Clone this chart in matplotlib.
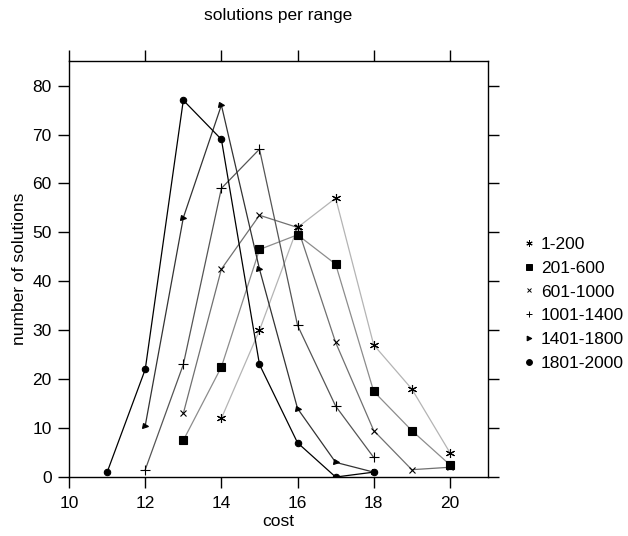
import matplotlib
matplotlib.use("Agg")
import matplotlib.pyplot as plt

plt.rcParams["font.family"] = ["Liberation Sans", "DejaVu Sans"]

labels = ["1-200", "201-600", "601-1000", "1001-1400", "1401-1800", "1801-2000"]

cost_1 = [14, 15, 16, 17, 18, 19, 20]
sol_1 = [12, 30, 51, 57, 27, 18, 5]

cost_2 = [13, 14, 15, 16, 17, 18, 19, 20]
sol_2 = [7.5, 22.5, 46.5, 49.5, 43.5, 17.5, 9.5, 2.5]

cost_3 = [13, 14, 15, 16, 17, 18, 19, 20]
sol_3 = [13, 42.5, 53.5, 51, 27.5, 9.5, 1.5, 2]

cost_4 = [12, 13, 14, 15, 16, 17, 18]
sol_4 = [1.5, 23, 59, 67, 31, 14.5, 4]

cost_5 = [12, 13, 14, 15, 16, 17, 18]
sol_5 = [10.5, 53, 76, 42.5, 14, 3, 1]

cost_6 = [11, 12, 13, 14, 15, 16, 17, 18]
sol_6 = [1, 22, 77, 69, 23, 7, 0, 1]

series = [(cost_1, sol_1), (cost_2, sol_2), (cost_3, sol_3),
          (cost_4, sol_4), (cost_5, sol_5), (cost_6, sol_6)]
line_colors = ["#b4b4b4", "#8c8c8c", "#707070", "#555555", "#333333", "#000000"]
markers = [(6, 2, 0), "s", "x", "+", ">", "o"]
msizes = [6.5, 5.2, 3.8, 6.5, 3.6, 4.6]
leg_sizes = [4.5, 4.5, 3.2, 5, 3.4, 4.2]

fs = 12.5

fig = plt.figure(figsize=(6.28, 5.36), dpi=100)
ax = fig.add_axes([0.110, 0.110, 0.667, 0.776])

handles = []
for (x, y), c, m, ms, lms, lab in zip(series, line_colors, markers, msizes,
                                      leg_sizes, labels):
    ax.plot(x, y, color=c, linewidth=0.9, zorder=2)
    ax.plot(x, y, linestyle="none", marker=m, markersize=ms, color="black",
            markeredgewidth=0.8, zorder=3)
    h, = ax.plot([], [], linestyle="none", marker=m, markersize=lms,
                 color="black", markeredgewidth=0.7, label=lab)
    handles.append(h)

ax.set_xlim(10, 21)
ax.set_ylim(0, 85)
ax.set_xticks([10, 12, 14, 16, 18, 20])
ax.set_yticks(range(0, 81, 10))
ax.tick_params(direction="out", length=8, width=1, labelsize=fs,
               top=True, right=True, labeltop=False, labelright=False)
ax.tick_params(axis="x", pad=5.5)
ax.tick_params(axis="y", pad=4.5)
for s in ax.spines.values():
    s.set_linewidth(1)
ax.set_xlabel("cost", fontsize=fs, labelpad=2)
ax.set_ylabel("number of solutions", fontsize=fs, labelpad=4)
ax.set_title("solutions per range", fontsize=fs, pad=29.5)

fig.legend(handles=handles, loc="center left", bbox_to_anchor=(0.836, 0.433),
           frameon=False, fontsize=fs, handlelength=0.5, handletextpad=0.4,
           labelspacing=0.5, borderpad=0, borderaxespad=0)

fig.savefig("out.png", dpi=100)
